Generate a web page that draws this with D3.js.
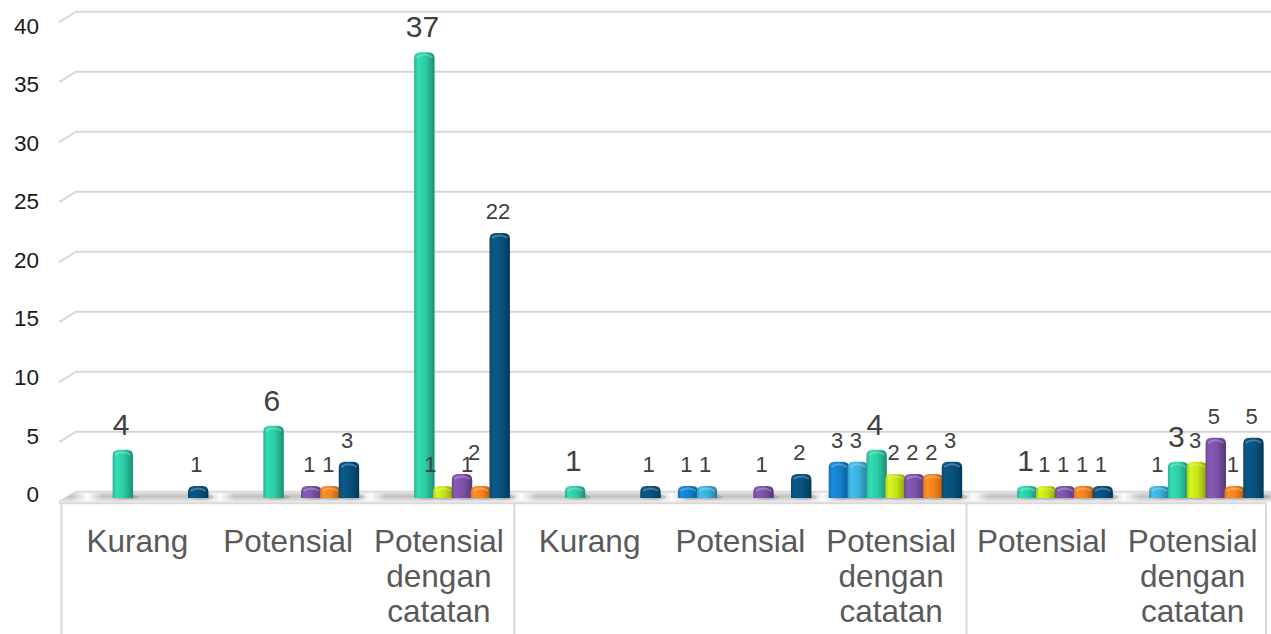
<!DOCTYPE html>
<html>
<head>
<meta charset="utf-8">
<script src="https://cdn.jsdelivr.net/npm/d3@7"></script>
<style>
  html, body { margin: 0; padding: 0; background: #fff; }
  svg { display: block; font-family: "Liberation Sans", Arial, sans-serif; }
</style>
</head>
<body>
<svg id="chart" width="1271" height="634"></svg>
<script>
// ---- data ----
const categories = ["Kurang", "Potensial", "Potensial dengan catatan",
                    "Kurang", "Potensial", "Potensial dengan catatan",
                    "Potensial", "Potensial dengan catatan"];
const groupSizes = [3, 3, 2];
const seriesNames = ["Seri 1", "Seri 2", "Seri 3", "Seri 4", "Seri 5", "Seri 6", "Seri 7"];
const seri1 = [0, 0, 0, 0, 1, 3, 0, 0];
const seri2 = [0, 0, 0, 0, 1, 3, 0, 1];
const seri3 = [4, 6, 37, 1, 0, 4, 1, 3];
const seri4 = [0, 0, 1, 0, 0, 2, 1, 3];
const seri5 = [0, 1, 2, 0, 1, 2, 1, 5];
const seri6 = [0, 1, 1, 0, 0, 2, 1, 1];
const seri7 = [1, 3, 22, 1, 2, 3, 1, 5];
const tickValues = [0, 5, 10, 15, 20, 25, 30, 35, 40];

const seriesValues = [seri1, seri2, seri3, seri4, seri5, seri6, seri7];
const colors = ["#1381cc", "#3bb0da", "#2ecba5", "#c6e21a", "#7c52a8", "#f5821f", "#08517e"];

const svg = d3.select("#chart");
const W = 1271, H = 634;
const defs = svg.append("defs");

// ---- scales ----
const plotLeft = 62, plotRight = 1268;
const xCat = d3.scaleBand().domain(d3.range(categories.length)).range([plotLeft, plotRight]);
const xBarCat = d3.scaleBand().domain(d3.range(categories.length)).range([plotLeft + 4, plotRight + 4]);
const xSer = d3.scaleBand().domain(d3.range(seriesNames.length)).range([0, xBarCat.bandwidth()]).paddingOuter(0.5);
const yWall = d3.scaleLinear().domain([0, 40]).range([491.7, 11.7]);
const yBar = d3.scaleLinear().domain([0, 40]).range([498, 16]);
const yLabel = d3.scaleLinear().domain([0, 40]).range([494, 25.7]);

const depthX = 17, depthY = 10.5;

// ---- gridlines (back wall) ----
const grid = svg.append("g");
tickValues.forEach(v => {
  const yb = yWall(v);
  grid.append("path")
    .attr("d", `M${59},${yb + depthY} L${59 + depthX},${yb} L${W},${yb}`)
    .attr("fill", "none").attr("stroke", "#d6d6d6").attr("stroke-width", 2);
});

// ---- y labels ----
svg.append("g").selectAll("text").data(tickValues).join("text")
  .attr("x", 39).attr("y", d => yLabel(d))
  .attr("dy", "0.36em")
  .attr("text-anchor", "end")
  .attr("font-size", 22.5)
  .attr("fill", "#1a1a1a")
  .text(d => d);

// ---- floor ----
const floorG = defs.append("linearGradient").attr("id", "floorGrad")
  .attr("x1", 0).attr("y1", 0).attr("x2", 0).attr("y2", 1);
floorG.append("stop").attr("offset", "0%").attr("stop-color", "#e4e4e4");
floorG.append("stop").attr("offset", "45%").attr("stop-color", "#c2c2c2");
floorG.append("stop").attr("offset", "100%").attr("stop-color", "#ececec");
const floorY0 = yWall(0), floorY1 = floorY0 + depthY;
svg.append("path")
  .attr("d", `M59,${floorY1} L${59 + depthX},${floorY0} L${W},${floorY0} L${W},${floorY1} Z`)
  .attr("fill", "url(#floorGrad)");
const hl = defs.append("linearGradient").attr("id", "hlGrad").attr("x1", 0).attr("x2", 1).attr("y1", 0).attr("y2", 0);
hl.append("stop").attr("offset", "0%").attr("stop-color", "#fff").attr("stop-opacity", 0);
hl.append("stop").attr("offset", "50%").attr("stop-color", "#fff").attr("stop-opacity", 0.95);
hl.append("stop").attr("offset", "100%").attr("stop-color", "#fff").attr("stop-opacity", 0);
svg.append("g").selectAll("rect").data(d3.range(categories.length)).join("rect")
  .attr("x", i => xBarCat(i) - 12 + (i === 0 ? 18 : 0))
  .attr("y", floorY0 + 1)
  .attr("width", 30)
  .attr("height", depthY - 2)
  .attr("fill", "url(#hlGrad)");
svg.append("line").attr("x1", 59).attr("x2", 1266).attr("y1", floorY1 + 1).attr("y2", floorY1 + 1)
  .attr("stroke", "#d9d9d9").attr("stroke-width", 2);

// ---- axis box ----
const boxG = svg.append("g").attr("stroke", "#d9d9d9").attr("stroke-width", 2);
const boundaries = [0];
groupSizes.reduce((acc, n) => { boundaries.push(acc + n); return acc + n; }, 0);
boundaries.forEach(b => {
  let x = b < categories.length ? xCat(b) : plotRight - 2;
  if (b === 0) x = 61.5;
  boxG.append("line").attr("x1", x).attr("x2", x).attr("y1", floorY1 + 1).attr("y2", H);
});

// ---- bar gradients ----
colors.forEach((c, i) => {
  const g = defs.append("linearGradient").attr("id", "bar" + i)
    .attr("x1", 0).attr("x2", 1).attr("y1", 0).attr("y2", 0);
  const base = d3.color(c);
  g.append("stop").attr("offset", "0%").attr("stop-color", base.darker(0.35));
  g.append("stop").attr("offset", "18%").attr("stop-color", base.brighter(0.25));
  g.append("stop").attr("offset", "55%").attr("stop-color", base);
  g.append("stop").attr("offset", "82%").attr("stop-color", base.darker(0.55));
  g.append("stop").attr("offset", "100%").attr("stop-color", base.darker(1.1));
});

// ---- bars ----
const bars = [];
categories.forEach((cat, ci) => {
  seriesValues.forEach((vals, si) => {
    if (vals[ci] > 0) bars.push({ ci, si, v: vals[ci] });
  });
});

function barPath(x, y0, w, y1) {
  const h = y0 - y1;
  const r = Math.min(6, h / 2, w / 2);
  return `M${x},${y0} L${x},${y1 + r} Q${x},${y1} ${x + r},${y1} L${x + w - r},${y1} Q${x + w},${y1} ${x + w},${y1 + r} L${x + w},${y0} Z`;
}

const bw = xSer.bandwidth() + 1.6;
const barG = svg.append("g");
barG.selectAll("ellipse").data(bars).join("ellipse")
  .attr("cx", d => xBarCat(d.ci) + xSer(d.si) + bw / 2 + 3)
  .attr("cy", yBar(0) - 1)
  .attr("rx", bw * 0.6)
  .attr("ry", 3)
  .attr("fill", "#000").attr("opacity", 0.12);
barG.selectAll("path.bar").data(bars).join("path")
  .attr("class", "bar")
  .attr("d", d => barPath(xBarCat(d.ci) + xSer(d.si) - 0.5, yBar(0), bw, yBar(d.v)))
  .attr("fill", d => `url(#bar${d.si})`);
barG.selectAll("path.cap").data(bars).join("path")
  .attr("class", "cap")
  .attr("d", d => {
    const x = xBarCat(d.ci) + xSer(d.si) + 2, w = bw - 5, y = yBar(d.v) + 1;
    return `M${x},${y + 4} Q${x + w / 2},${y - 1} ${x + w},${y + 4}`;
  })
  .attr("fill", "none").attr("stroke", "#fff").attr("stroke-opacity", 0.25).attr("stroke-width", 2);

// ---- value labels ----
const bigSeries = 2;
const labelDx = { "2-3": -11, "2-4": 14, "2-5": -12 };
svg.append("g").selectAll("text").data(bars).join("text")
  .attr("x", d => xBarCat(d.ci) + xSer(d.si) + xSer.bandwidth() / 2 - 1.5 + (labelDx[d.ci + "-" + d.si] || 0))
  .attr("y", d => yBar(d.v) - (d.si === bigSeries ? 15 : 14))
  .attr("text-anchor", "middle")
  .attr("font-size", d => d.si === bigSeries ? 30 : 22)
  .attr("fill", "#404040")
  .text(d => d.v);

// ---- category labels ----
const catG = svg.append("g");
categories.forEach((cat, i) => {
  const lines = cat.split(" ");
  const t = catG.append("text")
    .attr("x", xCat(i) + xCat.bandwidth() / 2)
    .attr("y", 551.7)
    .attr("text-anchor", "middle")
    .attr("font-size", 31.5)
    .attr("fill", "#595959");
  lines.forEach((ln, k) => {
    t.append("tspan").attr("x", xCat(i) + xCat.bandwidth() / 2)
      .attr("dy", k === 0 ? 0 : 35).text(ln);
  });
});
</script>
</body>
</html>
